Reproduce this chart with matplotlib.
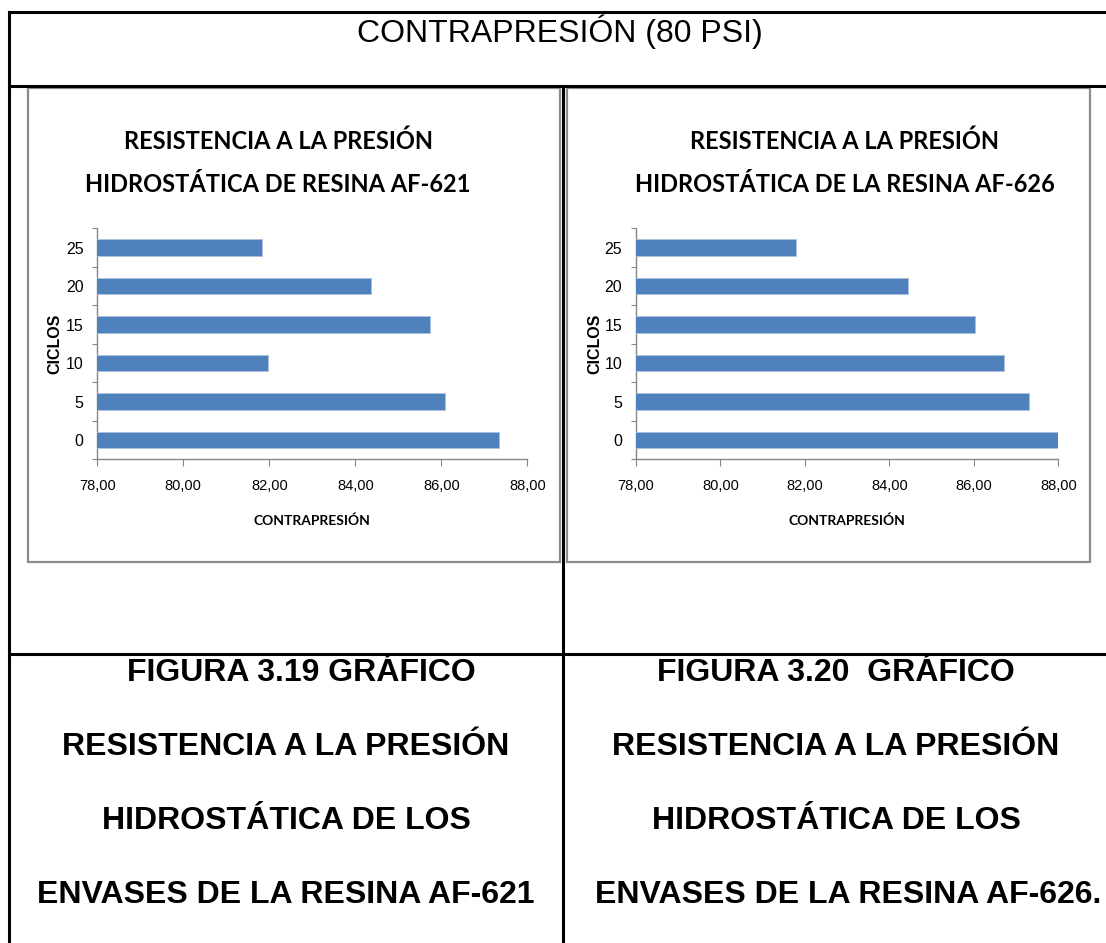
import matplotlib
matplotlib.use("Agg")
import matplotlib.pyplot as plt
from matplotlib.patches import Rectangle
from matplotlib.ticker import FuncFormatter, FixedLocator

# ---------------- data ----------------
ciclos = ["0", "5", "10", "15", "20", "25"]
af621 = [87.34, 86.09, 81.96, 85.74, 84.36, 81.82]
af626 = [88.02, 87.31, 86.71, 86.03, 84.43, 81.80]
x_ticks = [78, 80, 82, 84, 86, 88]

header_text = "CONTRAPRESIÓN (80 PSI)"
title_621 = ["RESISTENCIA A LA PRESIÓN", "HIDROSTÁTICA DE RESINA AF-621"]
title_626 = ["RESISTENCIA A LA PRESIÓN", "HIDROSTÁTICA DE LA RESINA AF-626"]
xlabel = "CONTRAPRESIÓN"
ylabel = "CICLOS"
caption_621 = ["FIGURA 3.19 GRÁFICO", "RESISTENCIA A LA PRESIÓN",
               "HIDROSTÁTICA DE LOS", "ENVASES DE LA RESINA AF-621"]
caption_626 = ["FIGURA 3.20  GRÁFICO", "RESISTENCIA A LA PRESIÓN",
               "HIDROSTÁTICA DE LOS", "ENVASES DE LA RESINA AF-626."]

W, H = 1106, 943
fig = plt.figure(figsize=(W / 100, H / 100), dpi=100)
fig.patch.set_facecolor("white")

bg = fig.add_axes([0, 0, 1, 1])
bg.set_xlim(0, W)
bg.set_ylim(H, 0)
bg.axis("off")

CAL = ["Lato", "DejaVu Sans"]
ARIAL = ["Liberation Sans", "DejaVu Sans"]

# table lines
lw = 2.2
bg.plot([9, W + 5], [12, 12], color="black", lw=lw)
bg.plot([9, 9], [12, H + 5], color="black", lw=lw)
bg.plot([9, W + 5], [86, 86], color="black", lw=lw)
bg.plot([9, W + 5], [654, 654], color="black", lw=lw)
bg.plot([563, 563], [86, H + 5], color="black", lw=lw)

# chart frames
for (x0, x1) in [(28, 560), (567, 1090)]:
    bg.add_patch(Rectangle((x0, 88), x1 - x0, 562 - 88, fill=False,
                           edgecolor="#8c8c8c", lw=1.6))

# header
bg.text(560, 32, header_text, ha="center", va="center", fontsize=23,
        family=ARIAL)

# captions
ys = [673, 747, 821, 895]
xs_left = [301, 286, 286, 286]
xs_right = [836, 836, 836, 848]
for t, y, x in zip(caption_621, ys, xs_left):
    bg.text(x, y, t, ha="center", va="center", fontsize=23,
            fontweight="bold", family=ARIAL)
for t, y, x in zip(caption_626, ys, xs_right):
    bg.text(x, y, t, ha="center", va="center", fontsize=23,
            fontweight="bold", family=ARIAL)

# chart titles
for lines, cx in [(title_621, 278), (title_626, 845)]:
    for t, y in zip(lines, [141, 184]):
        bg.text(cx, y, t, ha="center", va="center", fontsize=17,
                fontweight="bold", family=CAL)

BAR = "#4F81BD"
AXC = "#868686"


def make_chart(left, right, values, label_x):
    top, bottom = 228.3, 459.3
    ax = fig.add_axes([left / W, 1 - bottom / H, (right - left) / W,
                       (bottom - top) / H])
    pos = list(range(len(ciclos)))
    ax.barh(pos, values, height=0.42, color=BAR, edgecolor="#a9c0df",
            linewidth=0.6, zorder=3)
    ax.set_xlim(x_ticks[0], x_ticks[-1])
    ax.set_ylim(-0.5, len(ciclos) - 0.5)
    for s in ["top", "right"]:
        ax.spines[s].set_visible(False)
    for s in ["left", "bottom"]:
        ax.spines[s].set_color(AXC)
        ax.spines[s].set_linewidth(1.0)
    ax.set_xticks(x_ticks)
    ax.xaxis.set_major_formatter(
        FuncFormatter(lambda v, p: f"{v:.2f}".replace(".", ",")))
    ax.tick_params(axis="x", direction="out", length=5, color=AXC,
                   labelsize=10.5, pad=9)
    ax.yaxis.set_major_locator(FixedLocator([p - 0.5 for p in range(len(ciclos) + 1)]))
    ax.yaxis.set_minor_locator(FixedLocator(pos))
    ax.set_yticklabels([], minor=False)
    ax.set_yticklabels(ciclos, minor=True)
    ax.tick_params(axis="y", which="major", direction="out", length=3.5,
                   color=AXC)
    ax.tick_params(axis="y", which="minor", length=0, labelsize=11.5, pad=10)
    for lab in ax.get_xticklabels() + ax.get_yticklabels(minor=True):
        lab.set_family(ARIAL)
    ax.set_xlabel(xlabel, fontsize=10, fontweight="bold", family=CAL,
                  labelpad=16)
    bg.text(label_x, 344, ylabel, rotation=90, ha="center", va="center",
            fontsize=11.5, fontweight="bold", family=ARIAL)
    return ax


make_chart(97.3, 527.3, af621, 55)
make_chart(636, 1058.3, af626, 595)

fig.savefig("out.png", dpi=100, facecolor="white")
